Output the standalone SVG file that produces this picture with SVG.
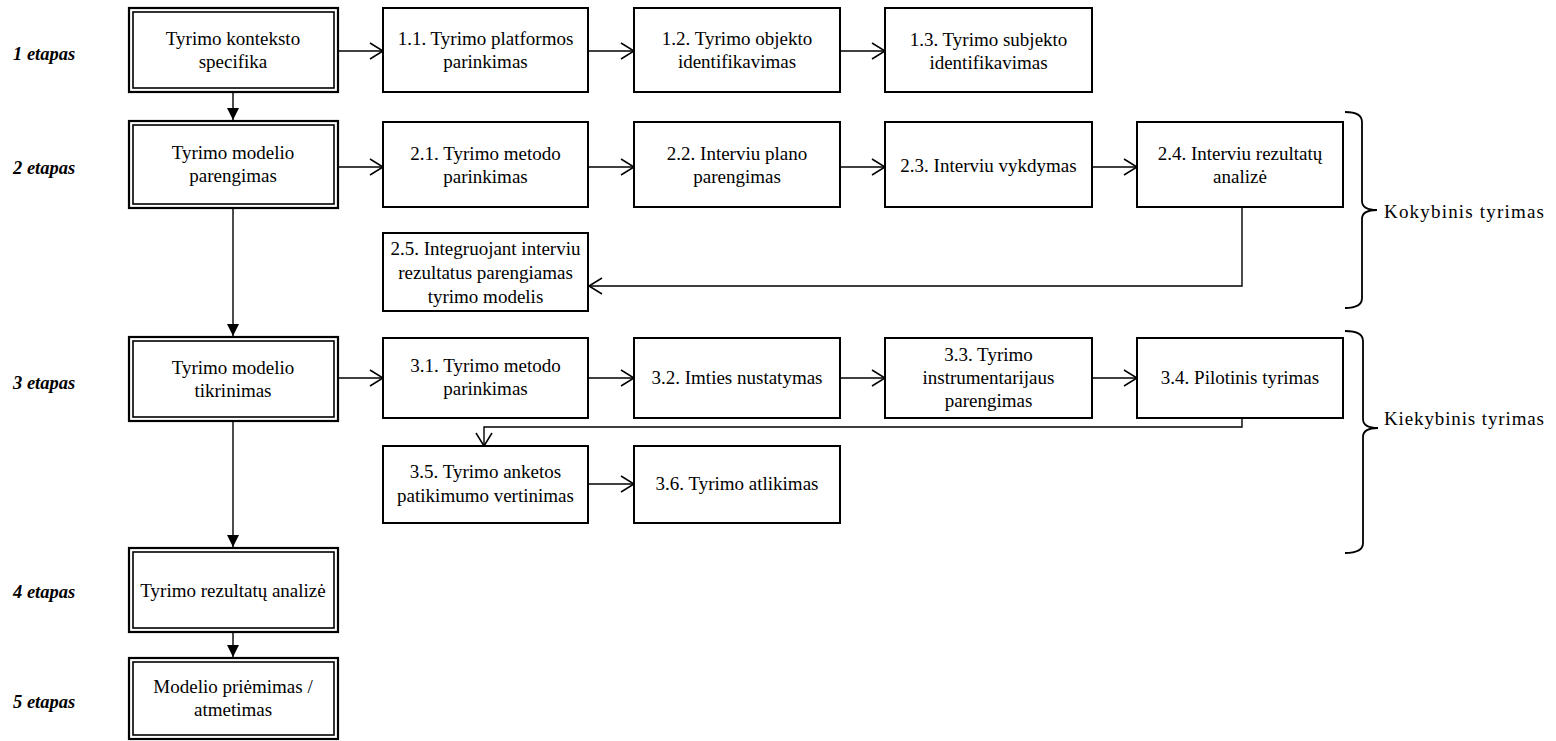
<svg xmlns="http://www.w3.org/2000/svg" width="1556" height="741" viewBox="0 0 1556 741">
<style>
  text { font-family: "Liberation Serif", "Times New Roman", serif; font-size: 19px; fill: #000; }
  .c { text-anchor: middle; }
  .stage { font-weight: bold; font-style: italic; font-size: 18.5px; }
  .box { fill: #fff; stroke: #000; stroke-width: 2; }
  .outer { fill: #fff; stroke: #000; stroke-width: 2.2; }
  .inner { fill: none; stroke: #000; stroke-width: 1.6; }
  .ln { fill: none; stroke: #000; stroke-width: 1.4; }
  .open { marker-end: url(#open); }
  .fill { marker-end: url(#tri); }
  .brace { fill: none; stroke: #000; stroke-width: 1.8; }
</style>
<defs>
  <marker id="open" markerUnits="userSpaceOnUse" markerWidth="16" markerHeight="18" refX="14" refY="9" orient="auto">
    <path d="M1,1 L14,9 L1,17" fill="none" stroke="#000" stroke-width="1.5"/>
  </marker>
  <marker id="tri" markerUnits="userSpaceOnUse" markerWidth="14" markerHeight="14" refX="12" refY="6" orient="auto">
    <path d="M0,0 L12,6 L0,12 z" fill="#000"/>
  </marker>
</defs>

<rect width="1556" height="741" fill="#fff"/>

<!-- stage labels -->
<g id="labels">
  <text class="stage" x="13" y="60">1 etapas</text>
  <text class="stage" x="13" y="174">2 etapas</text>
  <text class="stage" x="13" y="389">3 etapas</text>
  <text class="stage" x="13" y="598">4 etapas</text>
  <text class="stage" x="13" y="708">5 etapas</text>
</g>

<!-- connectors -->
<g id="connectors">
  <line class="ln fill" x1="233" y1="93" x2="233" y2="120"/>
  <line class="ln fill" x1="233" y1="209" x2="233" y2="336"/>
  <line class="ln fill" x1="233" y1="422" x2="233" y2="547"/>
  <line class="ln fill" x1="233" y1="633" x2="233" y2="657"/>

  <line class="ln open" x1="339" y1="51" x2="383" y2="51"/>
  <line class="ln open" x1="589" y1="51" x2="634" y2="51"/>
  <line class="ln open" x1="841" y1="51" x2="885" y2="51"/>

  <line class="ln open" x1="339" y1="167" x2="383" y2="167"/>
  <line class="ln open" x1="589" y1="167" x2="634" y2="167"/>
  <line class="ln open" x1="841" y1="167" x2="885" y2="167"/>
  <line class="ln open" x1="1093" y1="167" x2="1137" y2="167"/>

  <polyline class="ln open" points="1242,208 1242,286 589,286"/>

  <line class="ln open" x1="339" y1="378" x2="383" y2="378"/>
  <line class="ln open" x1="589" y1="378" x2="634" y2="378"/>
  <line class="ln open" x1="841" y1="378" x2="885" y2="378"/>
  <line class="ln open" x1="1093" y1="378" x2="1137" y2="378"/>

  <polyline class="ln open" points="1242,419 1242,427 484,427 484,446"/>

  <line class="ln open" x1="589" y1="484" x2="634" y2="484"/>
</g>

<!-- stage boxes -->
<g id="stage1">
  <rect class="outer" x="129" y="8" width="209" height="84"/>
  <rect class="inner" x="133" y="12" width="201" height="76"/>
  <text class="c" x="233" y="45">Tyrimo konteksto</text>
  <text class="c" x="233" y="68">specifika</text>
</g>
<g id="stage2">
  <rect class="outer" x="129" y="121" width="209" height="87"/>
  <rect class="inner" x="133" y="125" width="201" height="79"/>
  <text class="c" x="233" y="159">Tyrimo modelio</text>
  <text class="c" x="233" y="182">parengimas</text>
</g>
<g id="stage3">
  <rect class="outer" x="129" y="337" width="209" height="84"/>
  <rect class="inner" x="133" y="341" width="201" height="76"/>
  <text class="c" x="233" y="374">Tyrimo modelio</text>
  <text class="c" x="233" y="397">tikrinimas</text>
</g>
<g id="stage4">
  <rect class="outer" x="129" y="548" width="209" height="84"/>
  <rect class="inner" x="133" y="552" width="201" height="76"/>
  <text class="c" x="233" y="597">Tyrimo rezultatų analizė</text>
</g>
<g id="stage5">
  <rect class="outer" x="129" y="658" width="209" height="81"/>
  <rect class="inner" x="133" y="662" width="201" height="73"/>
  <text class="c" x="233" y="693">Modelio priėmimas /</text>
  <text class="c" x="233" y="716">atmetimas</text>
</g>

<!-- row 1 -->
<g id="n11">
  <rect class="box" x="383" y="8" width="205" height="84"/>
  <text class="c" x="485.5" y="45">1.1. Tyrimo platformos</text>
  <text class="c" x="485.5" y="68">parinkimas</text>
</g>
<g id="n12">
  <rect class="box" x="634" y="8" width="206" height="84"/>
  <text class="c" x="737" y="45">1.2. Tyrimo objekto</text>
  <text class="c" x="737" y="68">identifikavimas</text>
</g>
<g id="n13">
  <rect class="box" x="885" y="8" width="207" height="84"/>
  <text class="c" x="988.5" y="46">1.3. Tyrimo subjekto</text>
  <text class="c" x="988.5" y="69">identifikavimas</text>
</g>

<!-- row 2 -->
<g id="n21">
  <rect class="box" x="383" y="122" width="205" height="85"/>
  <text class="c" x="485.5" y="160">2.1. Tyrimo metodo</text>
  <text class="c" x="485.5" y="183">parinkimas</text>
</g>
<g id="n22">
  <rect class="box" x="634" y="122" width="206" height="85"/>
  <text class="c" x="737" y="160">2.2. Interviu plano</text>
  <text class="c" x="737" y="183">parengimas</text>
</g>
<g id="n23">
  <rect class="box" x="885" y="122" width="207" height="85"/>
  <text class="c" x="988.5" y="172">2.3. Interviu vykdymas</text>
</g>
<g id="n24">
  <rect class="box" x="1137" y="122" width="206" height="85"/>
  <text class="c" x="1240" y="160">2.4. Interviu rezultatų</text>
  <text class="c" x="1240" y="183">analizė</text>
</g>
<g id="n25">
  <rect class="box" x="383" y="233" width="205" height="78"/>
  <text class="c" x="485.5" y="255">2.5. Integruojant interviu</text>
  <text class="c" x="485.5" y="279">rezultatus parengiamas</text>
  <text class="c" x="485.5" y="303">tyrimo modelis</text>
</g>

<!-- row 3 -->
<g id="n31">
  <rect class="box" x="383" y="338" width="205" height="80"/>
  <text class="c" x="485.5" y="372">3.1. Tyrimo metodo</text>
  <text class="c" x="485.5" y="395">parinkimas</text>
</g>
<g id="n32">
  <rect class="box" x="634" y="338" width="206" height="80"/>
  <text class="c" x="737" y="384">3.2. Imties nustatymas</text>
</g>
<g id="n33">
  <rect class="box" x="885" y="338" width="207" height="80"/>
  <text class="c" x="988.5" y="361">3.3. Tyrimo</text>
  <text class="c" x="988.5" y="384">instrumentarijaus</text>
  <text class="c" x="988.5" y="407">parengimas</text>
</g>
<g id="n34">
  <rect class="box" x="1137" y="338" width="206" height="80"/>
  <text class="c" x="1240" y="384">3.4. Pilotinis tyrimas</text>
</g>
<g id="n35">
  <rect class="box" x="383" y="446" width="205" height="77"/>
  <text class="c" x="485.5" y="478">3.5. Tyrimo anketos</text>
  <text class="c" x="485.5" y="502">patikimumo vertinimas</text>
</g>
<g id="n36">
  <rect class="box" x="634" y="446" width="206" height="77"/>
  <text class="c" x="737" y="490">3.6. Tyrimo atlikimas</text>
</g>

<!-- braces -->
<g id="kokybinis">
  <path class="brace" d="M1345,112 Q1362,112 1362,122 L1362,201 Q1362,210 1377,210 Q1362,210 1362,219 L1362,298 Q1362,308 1345,308"/>
  <text x="1384" y="218" textLength="160" lengthAdjust="spacing">Kokybinis tyrimas</text>
</g>
<g id="kiekybinis">
  <path class="brace" d="M1345,331 Q1363,331 1363,341 L1363,419 Q1363,428 1378,428 Q1363,428 1363,437 L1363,543 Q1363,553 1345,553"/>
  <text x="1384" y="425" textLength="160" lengthAdjust="spacing">Kiekybinis tyrimas</text>
</g>
</svg>
